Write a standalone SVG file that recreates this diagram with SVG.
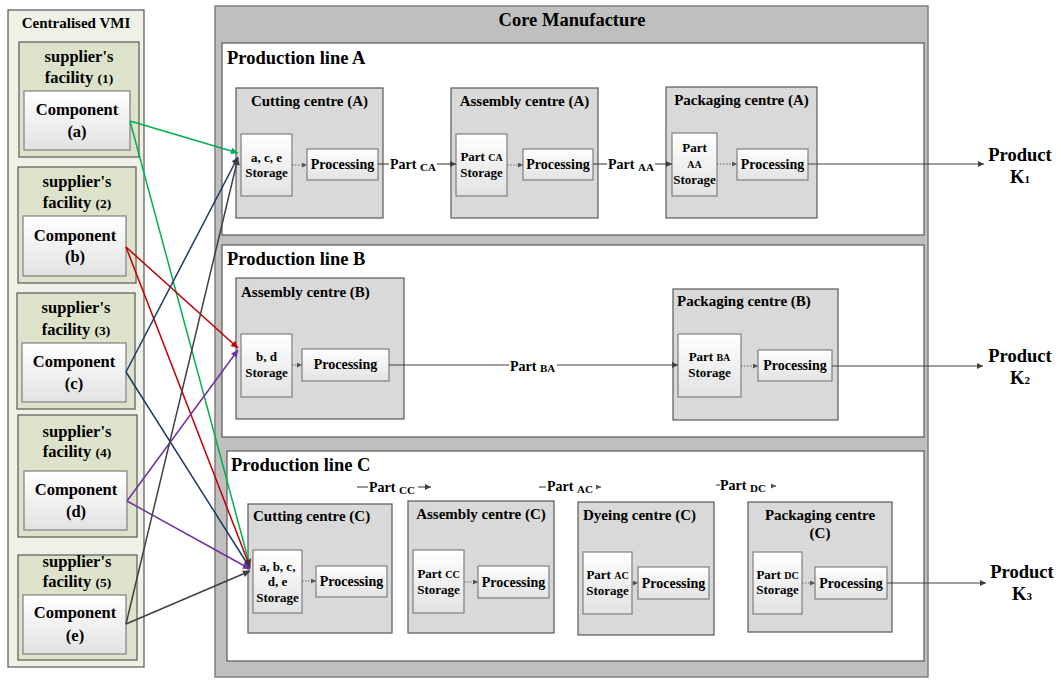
<svg xmlns="http://www.w3.org/2000/svg" width="1061" height="680" viewBox="0 0 1061 680" font-family="'Liberation Serif', 'DejaVu Serif', serif">
<defs>
<linearGradient id="gw" x1="0" y1="0" x2="0" y2="1"><stop offset="0" stop-color="#ffffff"/><stop offset="1" stop-color="#e2e2e2"/></linearGradient>
<marker id="mk" viewBox="0 0 10 10" refX="10" refY="5" markerWidth="8" markerHeight="6" markerUnits="userSpaceOnUse" orient="auto"><path d="M0,0L10,5L0,10z" fill="#404040"/></marker>
<marker id="ms" viewBox="0 0 10 10" refX="10" refY="5" markerWidth="6" markerHeight="5" markerUnits="userSpaceOnUse" orient="auto"><path d="M0,0L10,5L0,10z" fill="#555"/></marker>
<marker id="mg" viewBox="0 0 10 10" refX="10" refY="5" markerWidth="10" markerHeight="7" markerUnits="userSpaceOnUse" orient="auto"><path d="M0,0L10,5L0,10z" fill="#00b050"/></marker>
<marker id="mr" viewBox="0 0 10 10" refX="10" refY="5" markerWidth="10" markerHeight="7" markerUnits="userSpaceOnUse" orient="auto"><path d="M0,0L10,5L0,10z" fill="#c00000"/></marker>
<marker id="mn" viewBox="0 0 10 10" refX="10" refY="5" markerWidth="10" markerHeight="7" markerUnits="userSpaceOnUse" orient="auto"><path d="M0,0L10,5L0,10z" fill="#1f3864"/></marker>
<marker id="mp" viewBox="0 0 10 10" refX="10" refY="5" markerWidth="10" markerHeight="7" markerUnits="userSpaceOnUse" orient="auto"><path d="M0,0L10,5L0,10z" fill="#7030a0"/></marker>
<marker id="md" viewBox="0 0 10 10" refX="10" refY="5" markerWidth="10" markerHeight="7" markerUnits="userSpaceOnUse" orient="auto"><path d="M0,0L10,5L0,10z" fill="#404040"/></marker>
</defs>
<style>
text{font-family:'Liberation Serif','DejaVu Serif',serif;font-weight:bold;fill:#000}
.vmi{fill:#eef1e6;stroke:#595959;stroke-width:1.2}
.fac{fill:#dde3cb;stroke:#595959;stroke-width:1.2}
.box{fill:url(#gw);stroke:#7f7f7f;stroke-width:1.2}
.core{fill:#bfbfbf;stroke:#7f7f7f;stroke-width:1.5}
.line{fill:#ffffff;stroke:#595959;stroke-width:1.2}
.cen{fill:#d9d9d9;stroke:#595959;stroke-width:1.2}
.c{text-anchor:middle}
.f16{font-size:16.5px}
.f13{font-size:13px}
.f14{font-size:14px}
.f15{font-size:15px}
.f18{font-size:18.5px}
.sub{font-size:10px}
.solid{fill:none;stroke:#404040;stroke-width:1.1}
.dot{fill:none;stroke:#666;stroke-width:1;stroke-dasharray:1.5 1.5}
.cn{fill:none;stroke-width:1.5}
</style>

<g id="vmi">
<rect class="vmi" x="8" y="10" width="136" height="657"/>
<text class="c f15" x="76" y="28">Centralised VMI</text>
</g>
<g id="facility1">
<rect class="fac" x="19" y="42" width="120" height="115"/>
<text class="c f16" x="79" y="62">supplier's</text>
<text class="c f16" x="79" y="83">facility <tspan font-size="13.5">(1)</tspan></text>
</g>
<g id="componentA">
<rect class="box" x="24" y="91" width="106" height="59"/>
<text class="c f16" x="77" y="115">Component</text>
<text class="c f16" x="77" y="137">(a)</text>
</g>
<g id="facility2">
<rect class="fac" x="18" y="167" width="118" height="116"/>
<text class="c f16" x="77" y="187">supplier's</text>
<text class="c f16" x="77" y="208">facility <tspan font-size="13.5">(2)</tspan></text>
</g>
<g id="componentB">
<rect class="box" x="23" y="216" width="103" height="60"/>
<text class="c f16" x="75" y="241">Component</text>
<text class="c f16" x="75" y="262">(b)</text>
</g>
<g id="facility3">
<rect class="fac" x="17" y="293" width="118" height="116"/>
<text class="c f16" x="76" y="313">supplier's</text>
<text class="c f16" x="76" y="335">facility <tspan font-size="13.5">(3)</tspan></text>
</g>
<g id="componentC">
<rect class="box" x="22" y="343" width="104" height="59"/>
<text class="c f16" x="74" y="367">Component</text>
<text class="c f16" x="74" y="389">(c)</text>
</g>
<g id="facility4">
<rect class="fac" x="18" y="415" width="119" height="122"/>
<text class="c f16" x="77" y="437">supplier's</text>
<text class="c f16" x="77" y="457">facility <tspan font-size="13.5">(4)</tspan></text>
</g>
<g id="componentD">
<rect class="box" x="24" y="471" width="103" height="59"/>
<text class="c f16" x="76" y="495">Component</text>
<text class="c f16" x="76" y="517">(d)</text>
</g>
<g id="facility5">
<rect class="fac" x="18" y="555" width="119" height="105"/>
<text class="c f16" x="77" y="567">supplier's</text>
<text class="c f16" x="77" y="587">facility <tspan font-size="13.5">(5)</tspan></text>
</g>
<g id="componentE">
<rect class="box" x="23" y="595" width="103" height="59"/>
<text class="c f16" x="75" y="618">Component</text>
<text class="c f16" x="75" y="641">(e)</text>
</g>

<g id="core">
<rect class="core" x="215" y="6" width="713" height="671"/>
<text class="c f18" x="572" y="26">Core Manufacture</text>
</g>
<g id="lineA">
<rect class="line" x="222" y="43" width="702" height="192"/>
<text class="f18" x="227" y="64">Production line A</text>
</g>
<g id="lineB">
<rect class="line" x="222" y="245" width="702" height="192"/>
<text class="f18" x="227" y="265">Production line B</text>
</g>
<g id="lineC">
<rect class="line" x="227" y="451" width="697" height="210"/>
<text class="f18" x="231" y="471">Production line C</text>
</g>

<g id="cuttingA">
<rect class="cen" x="236" y="88" width="147" height="130"/>
<text class="c f15" x="309.5" y="106">Cutting centre (A)</text>
<rect class="box" x="241" y="134" width="51" height="62"/>
<text class="c f13" x="266.5" y="162">a, c, e</text>
<text class="c f13" x="266.5" y="177">Storage</text>
<rect class="box" x="307" y="149" width="71" height="31"/>
<text class="c f14" x="342.5" y="169">Processing</text>
</g>
<g id="assemblyA">
<rect class="cen" x="451" y="88" width="147" height="130"/>
<text class="c f15" x="524.5" y="106">Assembly centre (A)</text>
<rect class="box" x="456" y="134" width="51" height="62"/>
<text class="c f13" x="481.5" y="161">Part <tspan class="sub">CA</tspan></text>
<text class="c f13" x="481.5" y="177">Storage</text>
<rect class="box" x="523" y="149" width="70" height="31"/>
<text class="c f14" x="558" y="169">Processing</text>
</g>
<g id="packagingA">
<rect class="cen" x="666" y="87" width="151" height="131"/>
<text class="c f15" x="741.5" y="105">Packaging centre (A)</text>
<rect class="box" x="672" y="133" width="45" height="63"/>
<text class="c f13" x="694.5" y="152">Part</text>
<text class="c sub" x="694.5" y="168">AA</text>
<text class="c f13" x="694.5" y="184">Storage</text>
<rect class="box" x="737" y="149" width="71" height="31"/>
<text class="c f14" x="772.5" y="169">Processing</text>
</g>

<g id="assemblyB">
<rect class="cen" x="236" y="278" width="168" height="141"/>
<text class="f15" x="241" y="297">Assembly centre (B)</text>
<rect class="box" x="241" y="334" width="51" height="63"/>
<text class="c f13" x="266.5" y="361">b, d</text>
<text class="c f13" x="266.5" y="377">Storage</text>
<rect class="box" x="302" y="349" width="87" height="32"/>
<text class="c f14" x="345.5" y="369">Processing</text>
</g>
<g id="packagingB">
<rect class="cen" x="673" y="289" width="165" height="131"/>
<text class="f15" x="677" y="306">Packaging centre (B)</text>
<rect class="box" x="678" y="334" width="63" height="63"/>
<text class="c f13" x="709.5" y="361">Part <tspan class="sub">BA</tspan></text>
<text class="c f13" x="709.5" y="377">Storage</text>
<rect class="box" x="758" y="350" width="74" height="31"/>
<text class="c f14" x="795" y="370">Processing</text>
</g>

<g id="cuttingC">
<rect class="cen" x="248" y="504" width="144" height="129"/>
<text class="f15" x="253" y="521">Cutting centre (C)</text>
<rect class="box" x="253" y="550" width="49" height="63"/>
<text class="c f13" x="277.5" y="571">a, b, c,</text>
<text class="c f13" x="277.5" y="586">d, e</text>
<text class="c f13" x="277.5" y="602">Storage</text>
<rect class="box" x="316" y="566" width="71" height="31"/>
<text class="c f14" x="351.5" y="586">Processing</text>
</g>
<g id="assemblyC">
<rect class="cen" x="408" y="501" width="146" height="132"/>
<text class="c f15" x="481" y="519">Assembly centre (C)</text>
<rect class="box" x="413" y="550" width="51" height="63"/>
<text class="c f13" x="438.5" y="578">Part <tspan class="sub">CC</tspan></text>
<text class="c f13" x="438.5" y="594">Storage</text>
<rect class="box" x="478" y="566" width="71" height="32"/>
<text class="c f14" x="513.5" y="587">Processing</text>
</g>
<g id="dyeingC">
<rect class="cen" x="578" y="502" width="136" height="133"/>
<text class="f15" x="583" y="520">Dyeing centre (C)</text>
<rect class="box" x="583" y="552" width="49" height="62"/>
<text class="c f13" x="607.5" y="579">Part <tspan class="sub">AC</tspan></text>
<text class="c f13" x="607.5" y="595">Storage</text>
<rect class="box" x="638" y="567" width="71" height="32"/>
<text class="c f14" x="673.5" y="588">Processing</text>
</g>
<g id="packagingC">
<rect class="cen" x="748" y="502" width="144" height="130"/>
<text class="c f15" x="820" y="520">Packaging centre</text>
<text class="c f15" x="820" y="538">(C)</text>
<rect class="box" x="753" y="552" width="49" height="62"/>
<text class="c f13" x="777.5" y="579">Part <tspan class="sub">DC</tspan></text>
<text class="c f13" x="777.5" y="594">Storage</text>
<rect class="box" x="815" y="567" width="72" height="32"/>
<text class="c f14" x="851" y="588">Processing</text>
</g>

<g id="productK1"><text class="c f18" x="1020" y="161">Product</text><text class="c f18" x="1020" y="183">K<tspan font-size="11">1</tspan></text></g>
<g id="productK2"><text class="c f18" x="1020" y="362">Product</text><text class="c f18" x="1020" y="384">K<tspan font-size="11">2</tspan></text></g>
<g id="productK3"><text class="c f18" x="1022" y="578">Product</text><text class="c f18" x="1022" y="600">K<tspan font-size="11">3</tspan></text></g>

<g id="connectors">
<line class="dot" x1="292" y1="165" x2="307" y2="165" marker-end="url(#ms)"/>
<line class="dot" x1="507" y1="165" x2="523" y2="165" marker-end="url(#ms)"/>
<line class="dot" x1="717" y1="164" x2="737" y2="164" marker-end="url(#ms)"/>
<line class="dot" x1="292" y1="365" x2="302" y2="365" marker-end="url(#ms)"/>
<line class="dot" x1="741" y1="366" x2="758" y2="366" marker-end="url(#ms)"/>
<line class="dot" x1="302" y1="581" x2="316" y2="581" marker-end="url(#ms)"/>
<line class="dot" x1="464" y1="582" x2="478" y2="582" marker-end="url(#ms)"/>
<line class="dot" x1="632" y1="583" x2="638" y2="583" marker-end="url(#ms)"/>
<line class="dot" x1="802" y1="583" x2="815" y2="583" marker-end="url(#ms)"/>
<line class="solid" x1="378" y1="164" x2="389" y2="164"/>
<text class="f14" x="390" y="169">Part <tspan font-size="11" dy="2">CA</tspan></text>
<line class="solid" x1="437" y1="164" x2="456" y2="164" marker-end="url(#mk)"/>
<line class="solid" x1="593" y1="164" x2="607" y2="164"/>
<text class="f14" x="608" y="169">Part <tspan font-size="11" dy="2">AA</tspan></text>
<line class="solid" x1="655" y1="164" x2="672" y2="164" marker-end="url(#mk)"/>
<line class="solid" x1="808" y1="164" x2="984" y2="164" marker-end="url(#mk)"/>
<line class="solid" x1="389" y1="365" x2="509" y2="365"/>
<text class="f14" x="510" y="371">Part <tspan font-size="11" dy="1">BA</tspan></text>
<line class="solid" x1="557" y1="365" x2="678" y2="365" marker-end="url(#mk)"/>
<line class="solid" x1="832" y1="366" x2="983" y2="366" marker-end="url(#mk)"/>
<line class="solid" x1="357" y1="487" x2="368" y2="487"/>
<text class="f14" x="369" y="492">Part <tspan font-size="11" dy="2">CC</tspan></text>
<line class="solid" x1="418" y1="487" x2="431" y2="487" marker-end="url(#mk)"/>
<line class="solid" x1="539" y1="487" x2="546" y2="487"/>
<text class="f14" x="547" y="491">Part <tspan font-size="11" dy="2">AC</tspan></text>
<line class="solid" x1="598" y1="487" x2="601" y2="487" marker-end="url(#ms)"/>
<line class="solid" x1="716" y1="485" x2="720" y2="485"/>
<text class="f14" x="720" y="490">Part <tspan font-size="11" dy="2">DC</tspan></text>
<line class="solid" x1="773" y1="486" x2="776" y2="486" marker-end="url(#ms)"/>
<line class="solid" x1="887" y1="583" x2="986" y2="583" marker-end="url(#mk)"/>
<line class="cn" stroke="#00b050" x1="130" y1="121" x2="238" y2="153" marker-end="url(#mg)"/>
<line class="cn" stroke="#00b050" x1="130" y1="121" x2="250" y2="566" marker-end="url(#mg)"/>
<line class="cn" stroke="#c00000" x1="126" y1="247" x2="238" y2="348" marker-end="url(#mr)"/>
<line class="cn" stroke="#c00000" x1="126" y1="247" x2="250" y2="567" marker-end="url(#mr)"/>
<line class="cn" stroke="#1f3864" x1="126" y1="372" x2="238" y2="157" marker-end="url(#mn)"/>
<line class="cn" stroke="#1f3864" x1="126" y1="372" x2="250" y2="568" marker-end="url(#mn)"/>
<line class="cn" stroke="#7030a0" x1="127" y1="501" x2="238" y2="350" marker-end="url(#mp)"/>
<line class="cn" stroke="#7030a0" x1="127" y1="501" x2="250" y2="569" marker-end="url(#mp)"/>
<line class="cn" stroke="#404040" x1="126" y1="624" x2="238" y2="158" marker-end="url(#md)"/>
<line class="cn" stroke="#404040" x1="126" y1="624" x2="250" y2="571" marker-end="url(#md)"/>
</g>
</svg>
